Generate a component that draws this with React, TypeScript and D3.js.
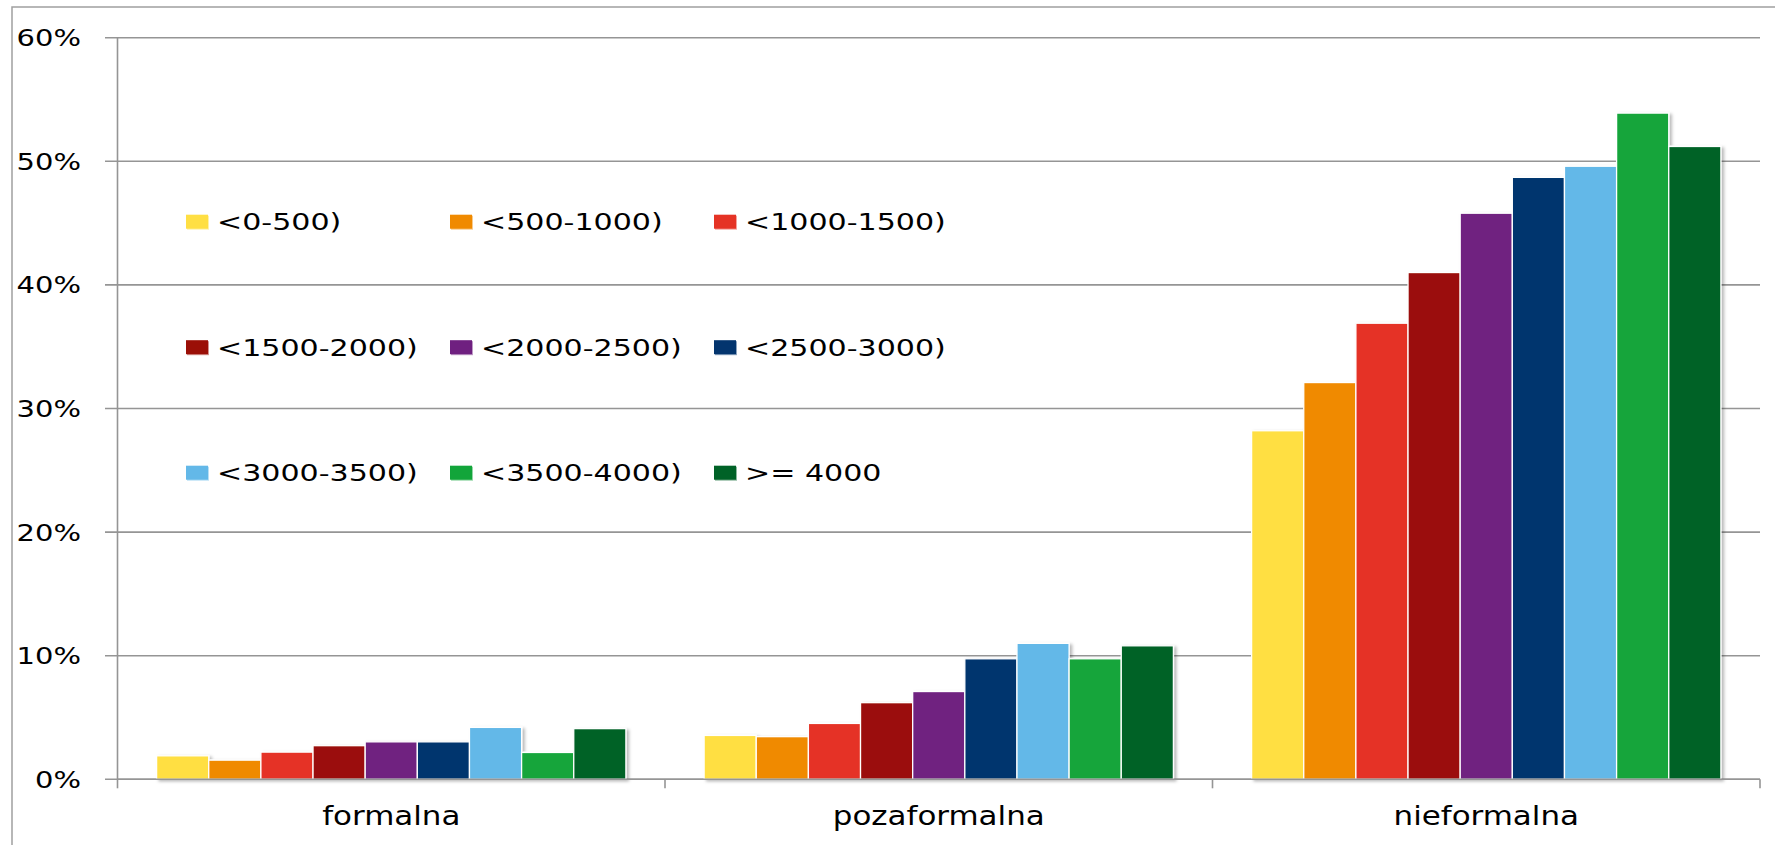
import React from 'react'
import * as d3 from 'd3'

const categories = ['formalna', 'pozaformalna', 'nieformalna']
const seriesNames = [
    '<0-500)',
    '<500-1000)',
    '<1000-1500)',
    '<1500-2000)',
    '<2000-2500)',
    '<2500-3000)',
    '<3000-3500)',
    '<3500-4000)',
    '>= 4000',
]
const seriesColors = [
    '#FFDF43',
    '#F08A00',
    '#E53325',
    '#9B0F07',
    '#6F2080',
    '#03356E',
    '#63B8E8',
    '#12A53A',
    '#006227',
]
// percent values per category, one entry per income bracket
const formalna = [1.9, 1.55, 2.2, 2.72, 3.03, 3.03, 4.2, 2.17, 4.1]
const pozaformalna = [3.55, 3.45, 4.52, 6.2, 7.1, 9.75, 11.0, 9.75, 10.8]
const nieformalna = [28.2, 32.1, 36.9, 41.0, 45.8, 48.7, 49.6, 53.9, 51.2]
const yTicks = [0, 10, 20, 30, 40, 50, 60]

const W = 1775
const H = 845
const FONT = '"DejaVu Sans", Verdana, sans-serif'
const GRID = '#959595'

export default function App() {
    const values = [formalna, pozaformalna, nieformalna]

    const margin = { left: 117.5, right: W - 1760, top: 37.7, bottom: H - 779.3 }

    const x0 = d3
        .scaleBand<string>()
        .domain(categories)
        .range([margin.left, W - margin.right])
        .padding(0)

    const x1 = d3
        .scaleBand<string>()
        .domain(seriesNames)
        .range([0, x0.bandwidth()])
        .paddingInner(0)
        .paddingOuter(0.75)

    const y = d3
        .scaleLinear()
        .domain([0, 60])
        .range([H - margin.bottom, margin.top])

    // category boundary ticks on the x axis
    const boundaries = categories.map((c) => x0(c)!).concat([W - margin.right])

    return (
        <svg
            width={W}
            height={H}
            style={{ position: 'absolute', left: 0, top: 0, background: '#fff' }}
            fontFamily={FONT}
        >
            <defs>
                <filter id="shadow" x="-10%" y="-10%" width="130%" height="130%">
                    <feDropShadow dx="2.5" dy="1.5" stdDeviation="1.5" floodColor="#000" floodOpacity="0.28" />
                </filter>
            </defs>

            {/* chart area border */}
            <path d={`M12,${H} V7 H${W}`} fill="none" stroke="#a0a0a0" strokeWidth={1.5} />

            {/* gridlines + y ticks */}
            {yTicks.map((t) => (
                <g key={t}>
                    <line
                        x1={105}
                        x2={W - margin.right}
                        y1={y(t)}
                        y2={y(t)}
                        stroke={GRID}
                        strokeWidth={1.6}
                    />
                    <g transform={`translate(81, ${y(t) + 8.5}) scale(1.26, 1)`}>
                        <text textAnchor="end" fontSize={23} fill="#000">
                            {t}%
                        </text>
                    </g>
                </g>
            ))}

            {/* y axis */}
            <line x1={margin.left} x2={margin.left} y1={margin.top} y2={y(0)} stroke={GRID} strokeWidth={1.6} />

            {/* bars */}
            {categories.map((c, ci) => (
                <g key={c} transform={`translate(${x0(c)}, 0)`} filter="url(#shadow)">
                    {seriesNames.map((s, si) => (
                        <rect
                            key={s}
                            x={x1(s)}
                            y={y(values[ci][si])}
                            width={x1.bandwidth()}
                            height={y(0) - y(values[ci][si])}
                            fill={seriesColors[si]}
                            stroke="#fff"
                            strokeWidth={1.3}
                        />
                    ))}
                </g>
            ))}

            {/* x axis */}
            <line x1={margin.left} x2={W - margin.right} y1={y(0)} y2={y(0)} stroke={GRID} strokeWidth={1.6} />
            {boundaries.map((bx, i) => (
                <line key={i} x1={bx} x2={bx} y1={y(0)} y2={y(0) + 9} stroke={GRID} strokeWidth={1.6} />
            ))}
            {categories.map((c) => (
                <g key={c} transform={`translate(${x0(c)! + x0.bandwidth() / 2}, 825) scale(1.19, 1)`}>
                    <text textAnchor="middle" fontSize={26} fill="#000">
                        {c}
                    </text>
                </g>
            ))}

            {/* legend */}
            {seriesNames.map((s, i) => {
                const lx = 186 + (i % 3) * 264
                const ly = 221.7 + Math.floor(i / 3) * 125.5
                return (
                    <g key={s}>
                        <rect x={lx + 1} y={ly - 6} width={22} height={14} fill={seriesColors[i]} opacity={0.45} />
                        <rect x={lx} y={ly - 7} width={22} height={14} fill={seriesColors[i]} />
                        <g transform={`translate(${lx + 31}, ${ly + 8.5}) scale(1.28, 1)`}>
                            <text fontSize={23.5} fill="#000">
                                {s}
                            </text>
                        </g>
                    </g>
                )
            })}
        </svg>
    )
}
